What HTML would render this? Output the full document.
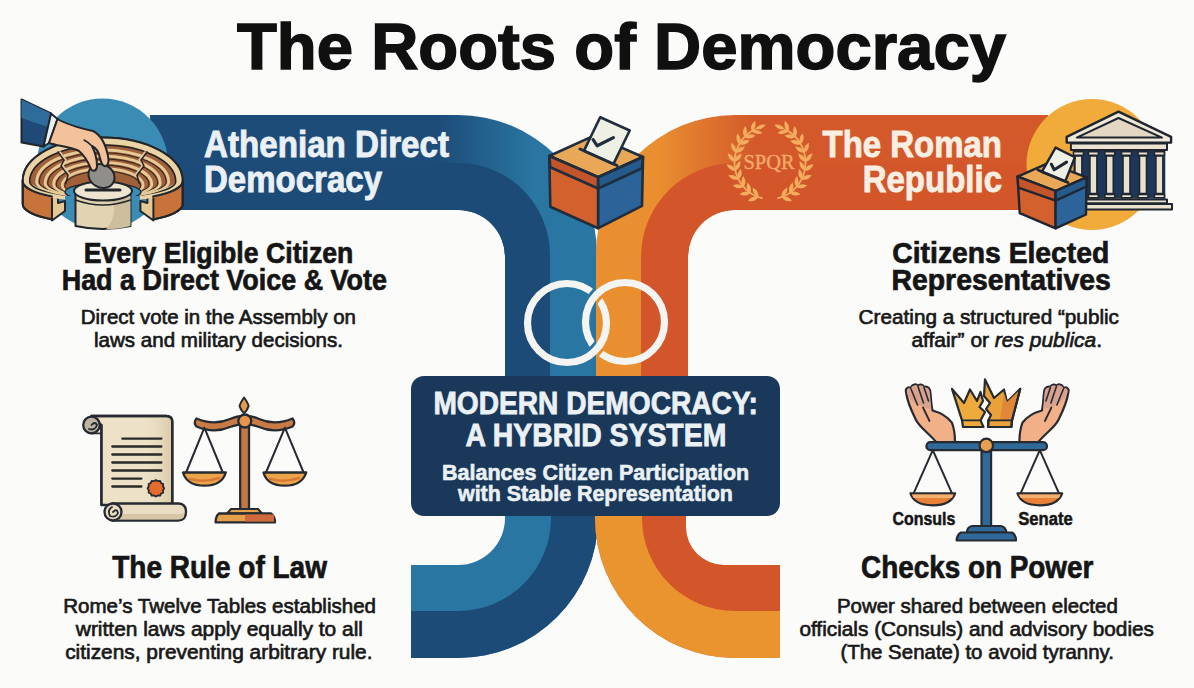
<!DOCTYPE html>
<html><head><meta charset="utf-8">
<style>
html,body{margin:0;padding:0;background:#fbfbfa;}
body{width:1194px;height:688px;overflow:hidden;position:relative;font-family:"Liberation Sans",sans-serif;}
svg{position:absolute;left:0;top:0;}
</style></head><body>
<svg width="1194" height="688" viewBox="0 0 1194 688">

<defs>
<linearGradient id="gBlueOut" gradientUnits="userSpaceOnUse" x1="438" y1="0" x2="535" y2="0">
<stop offset="0" stop-color="#1d4c79"/><stop offset="1" stop-color="#2a76a2"/></linearGradient>
<linearGradient id="gOrOut" gradientUnits="userSpaceOnUse" x1="755" y1="0" x2="658" y2="0">
<stop offset="0" stop-color="#d3592a"/><stop offset="1" stop-color="#e98f30"/></linearGradient>
</defs>
<rect width="1194" height="688" fill="#fbfbfa"/>
<path d="M150,115 L458,115 A139,139 0 0 1 597,254 L597,440 L505,440 L505,257 A47,47 0 0 0 458,210 L150,210 Z" fill="url(#gBlueOut)"/>
<path d="M150,163 L458,163 A92,92 0 0 1 550,255 L550,440 L505,440 L505,257 A47,47 0 0 0 458,210 L150,210 Z" fill="#1c4b78"/>
<path d="M505,440 L505,518 A47,47 0 0 1 458,565 L411,565 L411,658 L458,658 A140,140 0 0 0 598,518 L598,440 Z" fill="#2a76a2"/>
<path d="M551,440 L551,518 A93,93 0 0 1 458,611 L411,611 L411,658 L458,658 A140,140 0 0 0 598,518 L598,440 Z" fill="#1c4b78"/>
<path d="M1048,115 L735,115 A139,139 0 0 0 596,254 L596,440 L688,440 L688,257 A47,47 0 0 1 735,210 L1048,210 Z" fill="url(#gOrOut)"/>
<path d="M1048,163 L735,163 A94,94 0 0 0 641,257 L641,440 L688,440 L688,257 A47,47 0 0 1 735,210 L1048,210 Z" fill="#d2562a"/>
<path d="M686,440 L686,527 A38,38 0 0 0 724,565 L780,565 L780,658 L735,658 A140,140 0 0 1 595,518 L595,440 Z" fill="#d2562a"/>
<path d="M642,440 L642,518 A93,93 0 0 0 735,611 L780,611 L780,658 L735,658 A140,140 0 0 1 595,518 L595,440 Z" fill="#ea9430"/>


<mask id="mL" maskUnits="userSpaceOnUse" x="0" y="0" width="1194" height="688">
<rect width="1194" height="688" fill="#fff"/>
<g clip-path="url(#cTop)"><circle cx="625" cy="322" r="39.5" fill="none" stroke="#000" stroke-width="13"/></g>
</mask>
<mask id="mR" maskUnits="userSpaceOnUse" x="0" y="0" width="1194" height="688">
<rect width="1194" height="688" fill="#fff"/>
<g clip-path="url(#cBot)"><circle cx="567" cy="323" r="39.5" fill="none" stroke="#000" stroke-width="13"/></g>
</mask>
<clipPath id="cTop"><rect x="575" y="278" width="40" height="36"/></clipPath>
<clipPath id="cBot"><rect x="575" y="332" width="40" height="36"/></clipPath>
<circle cx="567" cy="323" r="39.5" fill="none" stroke="#f4f4f2" stroke-width="7.2" mask="url(#mL)"/>
<circle cx="625" cy="322" r="39.5" fill="none" stroke="#f4f4f2" stroke-width="7.2" mask="url(#mR)"/>

<rect x="411" y="376" width="369" height="140" rx="13" fill="#19385a"/>
<g id="athens" stroke="#22262b" stroke-width="2" stroke-linejoin="round" stroke-linecap="round">
<circle cx="102.5" cy="164" r="65.5" fill="#3a8cb4" stroke="none"/>
<!-- walls -->
<clipPath id="wallClip"><path d="M0,90 H210 V240 H153 V170 H52 V240 H0 Z"/></clipPath>
<clipPath id="topClip"><path d="M0,90 H210 V240 H140 V196 H65 V240 H0 Z"/></clipPath>
<g clip-path="url(#wallClip)">
<path d="M22.7,181 A80,20 0 0 0 182.7,181 L182.7,204 A80,20 0 0 1 22.7,204 Z" fill="#c8733a"/>
</g>
<path d="M52,196.5 L58,195 L58,203 L65,201 L65,211 L52,220.5 Z" fill="#e6c896"/>
<path d="M153.4,196.5 L147.4,195 L147.4,203 L140.4,201 L140.4,211 L153.4,220.5 Z" fill="#e6c896"/>
<g clip-path="url(#topClip)">
<path d="M22.7,181.0 A80.0,43.5 0 0 1 182.7,181.0 A80.0,20.0 0 0 1 22.7,181.0 Z" fill="#a0603a"/>
<path d="M26.2,181.0 A76.5,40.0 0 0 1 179.2,181.0 A76.5,18.0 0 0 1 26.2,181.0 Z" fill="none" stroke="#ead3a5" stroke-width="6"/>
<path d="M29.7,181.5 A73.0,36.5 0 0 1 175.7,181.5 A73.0,16.0 0 0 1 29.7,181.5 Z" fill="none" stroke="#22262b" stroke-width="1.6"/>
<path d="M36.7,182.0 A66.0,32.0 0 0 1 168.7,182.0 A66.0,15.0 0 0 1 36.7,182.0 Z" fill="none" stroke="#e6cb98" stroke-width="2.8"/>
<path d="M39.3,182.3 A63.4,29.6 0 0 1 166.1,182.3 A63.4,13.8 0 0 1 39.3,182.3 Z" fill="none" stroke="#3b2a20" stroke-width="1.1"/>
<path d="M45.2,183.2 A57.5,27.0 0 0 1 160.2,183.2 A57.5,13.8 0 0 1 45.2,183.2 Z" fill="none" stroke="#e6cb98" stroke-width="2.8"/>
<path d="M47.8,183.5 A54.9,24.6 0 0 1 157.6,183.5 A54.9,12.6 0 0 1 47.8,183.5 Z" fill="none" stroke="#3b2a20" stroke-width="1.1"/>
<path d="M53.7,184.4 A49.0,22.0 0 0 1 151.7,184.4 A49.0,12.6 0 0 1 53.7,184.4 Z" fill="none" stroke="#e6cb98" stroke-width="2.8"/>
<path d="M56.3,184.7 A46.4,19.6 0 0 1 149.1,184.7 A46.4,11.4 0 0 1 56.3,184.7 Z" fill="none" stroke="#3b2a20" stroke-width="1.1"/>
<path d="M62.2,185.6 A40.5,17.0 0 0 1 143.2,185.6 A40.5,11.4 0 0 1 62.2,185.6 Z" fill="none" stroke="#e6cb98" stroke-width="2.8"/>
<path d="M64.8,185.9 A37.9,14.6 0 0 1 140.6,185.9 A37.9,10.2 0 0 1 64.8,185.9 Z" fill="none" stroke="#3b2a20" stroke-width="1.1"/>
<ellipse cx="103" cy="192" rx="38" ry="9" fill="#3a8cb4" stroke="#22262b" stroke-width="1.5"/>
<path d="M58,152 L64,160 L61,166 L68,175 L66,183" fill="none" stroke="#2a2420" stroke-width="1.6"/>
<path d="M60,152 L66,160 L63,166 L70,175" fill="none" stroke="#d9c7a6" stroke-width="1.6"/>
<path d="M147,152 L141,160 L144,166 L137,175 L139,183" fill="none" stroke="#2a2420" stroke-width="1.6"/>
<path d="M145,152 L139,160 L142,166 L135,175" fill="none" stroke="#d9c7a6" stroke-width="1.6"/>
</g>
<path d="M22.7,181 A80,43.5 0 0 1 182.7,181 A80,20 0 0 1 153,196.5 M52,196.5 A80,20 0 0 1 22.7,181" fill="none"/>
<path d="M22.7,181 L22.7,204 A80,20 0 0 0 52,219.5 M182.7,181 L182.7,204 A80,20 0 0 1 153.4,219.5" fill="none"/>
<!-- pedestal -->
<path d="M75.5,193 L75.5,226 Q102.7,232 130.5,226 L130.5,193 Z" fill="#e2d4b3"/>
<path d="M112,200 L130.5,196 L130.5,226 Q120,229 106,229.5 Q118,215 112,200 Z" fill="#cdbf9e" stroke="none"/>
<path d="M75.5,200 Q102.7,210 130.5,200" fill="none" stroke-width="1.6"/>
<ellipse cx="103" cy="191" rx="29" ry="9.5" fill="#eee5d0"/>
<path d="M86,190 L120,190" stroke-width="3"/>
<!-- stone -->
<ellipse cx="101.5" cy="176" rx="13.5" ry="11.5" transform="rotate(30 101.5 176)" fill="#8f8e88"/>
<!-- sleeve -->
<path d="M21.5,99.5 L51,113.5 L43.5,146.5 L21.5,142.5 Z" fill="#1f4a78"/>
<path d="M21.5,99.5 L51,113.5 L48,127 L21.5,118 Z" fill="#2e6c9c" stroke="none"/>
<path d="M51,113.5 L57.5,119 L49,143 L43.5,146.5 Z" fill="#e9eef0"/>
<!-- hand -->
<path d="M57.5,119 C64,123 80,128 93,131 C101,135 106,146 108,156 C109,161 108,165 106,166 C103,167 101,163 100,158 C99,152 96,148 92,146 C95,152 97,160 97,166 C97,171 93,172 91,169 C88,162 84,155 79,151 C71,147 58,146 49,143 Z" fill="#f3c29a"/>
<path d="M84,140 C88,142 91,145 92,146" fill="none" stroke-width="1.5"/>
</g>

<g id="ballotc" stroke="#1f2d3c" stroke-width="2.6" stroke-linejoin="round" stroke-linecap="round">
<path d="M549.3,156 L594.1,135.6 L643,157 L598.2,177.3 Z" fill="#e8a857"/>
<path d="M600.2,117.3 L629.7,130.5 L613.4,164.1 L583.9,150.9 Z" fill="#eef0e6"/>
<path d="M593.1,139.7 L597.2,145.8 L613.4,137.6" fill="none" stroke-width="3.2"/>
<path d="M580,149 L617,165.5" fill="none" stroke-width="3"/>
<path d="M549.3,156 L598.2,177.3 L598.2,228.2 L550.3,206.8 Z" fill="#d3612d"/>
<path d="M549.3,156 L598.2,177.3 L598.2,188.5 L550.3,167.2 Z" fill="#c4552a"/>
<path d="M598.2,177.3 L643,157 L642,205.8 L598.2,228.2 Z" fill="#2c6499"/>
<path d="M598.2,177.3 L643,157 L642,168.2 L598.2,188.5 Z" fill="#255a8c"/>
</g>
<g id="roman" stroke="#1f2631" stroke-width="2.4" stroke-linejoin="round" stroke-linecap="round">
<circle cx="1092" cy="164.5" r="65.5" fill="#f0ab3b" stroke="none"/>
<!-- temple -->
<rect x="1073.4" y="150.1" width="91.9" height="48.5" fill="#1e3658" stroke="none"/>
<path d="M1118.5,111.7 L1171.1,136.8 L1171.1,142.6 L1066.7,142.6 L1066.7,136.8 Z" fill="#efe8d6"/>
<path d="M1118.5,118 L1162,137.6 L1076.7,137.6 Z" fill="#e4d8c2" stroke-width="2"/>
<rect x="1070.9" y="143.5" width="96.1" height="6.6" fill="#ebe3cf" stroke-width="2"/>
<g fill="#e9e1cc" stroke-width="1.6">
<rect x="1073.5" y="151.8" width="10" height="3.4"/><rect x="1074.9" y="156" width="7" height="37.6"/><rect x="1073.5" y="194.4" width="10" height="3.4"/>
<rect x="1088.4" y="151.8" width="10" height="3.4"/><rect x="1089.9" y="156" width="7" height="37.6"/><rect x="1088.4" y="194.4" width="10" height="3.4"/>
<rect x="1104.8" y="151.8" width="10" height="3.4"/><rect x="1106.3" y="156" width="7" height="37.6"/><rect x="1104.8" y="194.4" width="10" height="3.4"/>
<rect x="1121.5" y="151.8" width="10" height="3.4"/><rect x="1123" y="156" width="7" height="37.6"/><rect x="1121.5" y="194.4" width="10" height="3.4"/>
<rect x="1138" y="151.8" width="10" height="3.4"/><rect x="1139.5" y="156" width="7" height="37.6"/><rect x="1138" y="194.4" width="10" height="3.4"/>
<rect x="1154.4" y="151.8" width="10" height="3.4"/><rect x="1155.9" y="156" width="7" height="37.6"/><rect x="1154.4" y="194.4" width="10" height="3.4"/>
</g>
<rect x="1082" y="199.4" width="85" height="3.8" fill="#ebe3cf" stroke-width="2"/>
<rect x="1080" y="204" width="92" height="5.5" fill="#ebe3cf" stroke-width="2"/>
<!-- ballot box -->
<path d="M1017.6,176.6 L1048.7,162.8 L1086.6,177.3 L1055.6,191 Z" fill="#e8a857"/>
<path d="M1055.6,147.6 L1074.9,157.3 L1065.2,181.4 L1041.8,171.8 Z" fill="#eef0e6"/>
<path d="M1051.4,164.2 L1054.2,169.7 L1066.6,162.1" fill="none" stroke-width="3"/>
<path d="M1038,170 L1068,182.5" fill="none" stroke-width="2.8"/>
<path d="M1017.6,176.6 L1055.6,191 L1055.6,228.3 L1019.7,213.2 Z" fill="#d3612d"/>
<path d="M1017.6,176.6 L1055.6,191 L1055.6,200.7 L1018.3,187.6 Z" fill="#c4552a"/>
<path d="M1055.6,191 L1086.6,177.3 L1086,214.5 L1055.6,228.3 Z" fill="#2c6499"/>
<path d="M1055.6,191 L1086.6,177.3 L1086.4,186.5 L1055.6,200.7 Z" fill="#255a8c"/>
</g>
<g id="wreath" fill="#f4ad5f">
<path d="M762.6,198.3 L760.5,197.7 L758.3,197.0 L756.2,196.2 L754.2,195.3 L752.2,194.2 L750.4,193.0 L748.5,191.6 L746.8,190.2 L745.2,188.6 L743.6,187.0 L742.2,185.2 L740.8,183.4 L739.6,181.4 L738.5,179.4 L737.6,177.4 L736.7,175.2 L736.0,173.1 L735.4,170.8 L735.0,168.6 L734.7,166.3 L734.5,164.0 L734.5,161.7 L734.6,159.4 L734.9,157.2 L735.3,154.9 L735.8,152.7 L736.5,150.5 L737.3,148.3 L738.2,146.2 L739.3,144.2 L740.4,142.3 L741.7,140.4 L743.1,138.6 L744.6,136.9 L746.2,135.3 L747.9,133.8 L749.7,132.5 L751.6,131.2 L753.6,130.1 L755.6,129.1" fill="none" stroke="#f4ad5f" stroke-width="1.8"/>
<path d="M0,0 Q5.0,-4.0 11.0,0 Q5.0,4.0 0,0 Z" transform="translate(758.3 197.0) rotate(159.2)"/>
<path d="M0,0 Q5.0,-4.0 11.0,0 Q5.0,4.0 0,0 Z" transform="translate(758.3 197.0) rotate(239.2)"/>
<path d="M0,0 Q5.0,-4.0 11.0,0 Q5.0,4.0 0,0 Z" transform="translate(750.4 193.0) rotate(173.6)"/>
<path d="M0,0 Q5.0,-4.0 11.0,0 Q5.0,4.0 0,0 Z" transform="translate(750.4 193.0) rotate(253.6)"/>
<path d="M0,0 Q5.0,-4.0 11.0,0 Q5.0,4.0 0,0 Z" transform="translate(743.6 187.0) rotate(188.0)"/>
<path d="M0,0 Q5.0,-4.0 11.0,0 Q5.0,4.0 0,0 Z" transform="translate(743.6 187.0) rotate(268.0)"/>
<path d="M0,0 Q5.0,-4.0 11.0,0 Q5.0,4.0 0,0 Z" transform="translate(738.5 179.4) rotate(202.4)"/>
<path d="M0,0 Q5.0,-4.0 11.0,0 Q5.0,4.0 0,0 Z" transform="translate(738.5 179.4) rotate(282.4)"/>
<path d="M0,0 Q5.0,-4.0 11.0,0 Q5.0,4.0 0,0 Z" transform="translate(735.4 170.8) rotate(216.8)"/>
<path d="M0,0 Q5.0,-4.0 11.0,0 Q5.0,4.0 0,0 Z" transform="translate(735.4 170.8) rotate(296.8)"/>
<path d="M0,0 Q5.0,-4.0 11.0,0 Q5.0,4.0 0,0 Z" transform="translate(734.5 161.7) rotate(231.2)"/>
<path d="M0,0 Q5.0,-4.0 11.0,0 Q5.0,4.0 0,0 Z" transform="translate(734.5 161.7) rotate(311.2)"/>
<path d="M0,0 Q5.0,-4.0 11.0,0 Q5.0,4.0 0,0 Z" transform="translate(735.8 152.7) rotate(245.6)"/>
<path d="M0,0 Q5.0,-4.0 11.0,0 Q5.0,4.0 0,0 Z" transform="translate(735.8 152.7) rotate(325.6)"/>
<path d="M0,0 Q5.0,-4.0 11.0,0 Q5.0,4.0 0,0 Z" transform="translate(739.3 144.2) rotate(260.0)"/>
<path d="M0,0 Q5.0,-4.0 11.0,0 Q5.0,4.0 0,0 Z" transform="translate(739.3 144.2) rotate(340.0)"/>
<path d="M0,0 Q5.0,-4.0 11.0,0 Q5.0,4.0 0,0 Z" transform="translate(744.6 136.9) rotate(274.4)"/>
<path d="M0,0 Q5.0,-4.0 11.0,0 Q5.0,4.0 0,0 Z" transform="translate(744.6 136.9) rotate(354.4)"/>
<path d="M0,0 Q5.0,-4.0 11.0,0 Q5.0,4.0 0,0 Z" transform="translate(751.6 131.2) rotate(288.8)"/>
<path d="M0,0 Q5.0,-4.0 11.0,0 Q5.0,4.0 0,0 Z" transform="translate(751.6 131.2) rotate(368.8)"/>
<path d="M0,0 Q5.0,-3.8 11.0,0 Q5.0,3.8 0,0 Z" transform="translate(755.6 129.1) rotate(336.0)"/>
<path d="M777.4,198.3 L779.5,197.7 L781.7,197.0 L783.8,196.2 L785.8,195.3 L787.8,194.2 L789.6,193.0 L791.5,191.6 L793.2,190.2 L794.8,188.6 L796.4,187.0 L797.8,185.2 L799.2,183.4 L800.4,181.4 L801.5,179.4 L802.4,177.4 L803.3,175.2 L804.0,173.1 L804.6,170.8 L805.0,168.6 L805.3,166.3 L805.5,164.0 L805.5,161.7 L805.4,159.4 L805.1,157.2 L804.7,154.9 L804.2,152.7 L803.5,150.5 L802.7,148.3 L801.8,146.2 L800.7,144.2 L799.6,142.3 L798.3,140.4 L796.9,138.6 L795.4,136.9 L793.8,135.3 L792.1,133.8 L790.3,132.5 L788.4,131.2 L786.4,130.1 L784.4,129.1" fill="none" stroke="#f4ad5f" stroke-width="1.8"/>
<path d="M0,0 Q5.0,-4.0 11.0,0 Q5.0,4.0 0,0 Z" transform="translate(781.7 197.0) rotate(-59.2)"/>
<path d="M0,0 Q5.0,-4.0 11.0,0 Q5.0,4.0 0,0 Z" transform="translate(781.7 197.0) rotate(20.8)"/>
<path d="M0,0 Q5.0,-4.0 11.0,0 Q5.0,4.0 0,0 Z" transform="translate(789.6 193.0) rotate(-73.6)"/>
<path d="M0,0 Q5.0,-4.0 11.0,0 Q5.0,4.0 0,0 Z" transform="translate(789.6 193.0) rotate(6.4)"/>
<path d="M0,0 Q5.0,-4.0 11.0,0 Q5.0,4.0 0,0 Z" transform="translate(796.4 187.0) rotate(-88.0)"/>
<path d="M0,0 Q5.0,-4.0 11.0,0 Q5.0,4.0 0,0 Z" transform="translate(796.4 187.0) rotate(-8.0)"/>
<path d="M0,0 Q5.0,-4.0 11.0,0 Q5.0,4.0 0,0 Z" transform="translate(801.5 179.4) rotate(-102.4)"/>
<path d="M0,0 Q5.0,-4.0 11.0,0 Q5.0,4.0 0,0 Z" transform="translate(801.5 179.4) rotate(-22.4)"/>
<path d="M0,0 Q5.0,-4.0 11.0,0 Q5.0,4.0 0,0 Z" transform="translate(804.6 170.8) rotate(-116.8)"/>
<path d="M0,0 Q5.0,-4.0 11.0,0 Q5.0,4.0 0,0 Z" transform="translate(804.6 170.8) rotate(-36.8)"/>
<path d="M0,0 Q5.0,-4.0 11.0,0 Q5.0,4.0 0,0 Z" transform="translate(805.5 161.7) rotate(-131.2)"/>
<path d="M0,0 Q5.0,-4.0 11.0,0 Q5.0,4.0 0,0 Z" transform="translate(805.5 161.7) rotate(-51.2)"/>
<path d="M0,0 Q5.0,-4.0 11.0,0 Q5.0,4.0 0,0 Z" transform="translate(804.2 152.7) rotate(-145.6)"/>
<path d="M0,0 Q5.0,-4.0 11.0,0 Q5.0,4.0 0,0 Z" transform="translate(804.2 152.7) rotate(-65.6)"/>
<path d="M0,0 Q5.0,-4.0 11.0,0 Q5.0,4.0 0,0 Z" transform="translate(800.7 144.2) rotate(-160.0)"/>
<path d="M0,0 Q5.0,-4.0 11.0,0 Q5.0,4.0 0,0 Z" transform="translate(800.7 144.2) rotate(-80.0)"/>
<path d="M0,0 Q5.0,-4.0 11.0,0 Q5.0,4.0 0,0 Z" transform="translate(795.4 136.9) rotate(-174.4)"/>
<path d="M0,0 Q5.0,-4.0 11.0,0 Q5.0,4.0 0,0 Z" transform="translate(795.4 136.9) rotate(-94.4)"/>
<path d="M0,0 Q5.0,-4.0 11.0,0 Q5.0,4.0 0,0 Z" transform="translate(788.4 131.2) rotate(-188.8)"/>
<path d="M0,0 Q5.0,-4.0 11.0,0 Q5.0,4.0 0,0 Z" transform="translate(788.4 131.2) rotate(-108.8)"/>
<path d="M0,0 Q5.0,-3.8 11.0,0 Q5.0,3.8 0,0 Z" transform="translate(784.4 129.1) rotate(-156.0)"/>
<text x="743.5" y="169.3" font-family="Liberation Serif" font-size="21" textLength="51" lengthAdjust="spacingAndGlyphs" fill="#f5aa6c" stroke="#f5aa6c" stroke-width="0.35">SPQR</text>
</g><g id="law" stroke="#262a31" stroke-width="2.3" stroke-linejoin="round" stroke-linecap="round">
<!-- scroll sheet -->
<path d="M91.4,416 L166,416 Q172.3,416 172.3,422 L172.3,505 L101.4,505 L101.4,425 Z" fill="#ede2c8"/>
<linearGradient id="gScroll" gradientUnits="userSpaceOnUse" x1="140" y1="0" x2="172" y2="0"><stop offset="0" stop-color="#ede2c8" stop-opacity="0"/><stop offset="1" stop-color="#d9c9a8"/></linearGradient>
<path d="M140,418 L171,418 L171,504 L140,504 Z" fill="url(#gScroll)" stroke="none"/>
<path d="M91.4,416 L166,416 Q172.3,416 172.3,422 L172.3,505" fill="none"/>
<path d="M101.4,425 L101.4,505" fill="none"/>
<circle cx="91.5" cy="425" r="8.3" fill="#bdb4a3"/>
<path d="M91.5,425 Q95,421 97,425 Q95,431 89,429" fill="none" stroke-width="1.8"/>
<path d="M91.5,433.3 L101.4,433.3" fill="none" stroke-width="1.8"/>
<!-- lines -->
<g stroke="#2a2a2a" stroke-width="2.3">
<path d="M122.3,438.6 H161.4"/><path d="M112.3,446.5 H161.4"/><path d="M112.3,454.5 H161.4"/><path d="M112.3,462.5 H161.4"/><path d="M112.3,470.5 H161.4"/><path d="M112.3,478.6 H141.4"/><path d="M112.3,486.5 H141.4"/>
</g>
<!-- seal -->
<path d="M155.9,480 l2,1.2 2.3,-0.2 0.9,2.1 2.1,0.9 -0.2,2.3 1.2,2 -1.2,2 0.2,2.3 -2.1,0.9 -0.9,2.1 -2.3,-0.2 -2,1.2 -2,-1.2 -2.3,0.2 -0.9,-2.1 -2.1,-0.9 0.2,-2.3 -1.2,-2 1.2,-2 -0.2,-2.3 2.1,-0.9 0.9,-2.1 2.3,0.2 Z" fill="#e56c2e" stroke-width="1.8"/>
<!-- bottom roll -->
<path d="M112,503.5 L178,503.5 Q186,503.5 186,512 Q186,520.5 178,520.5 L112,520.5 Z" fill="#e9dcc0"/>
<path d="M115,514 L180,514 Q184,514 184,512 L184,517 Q182,519.5 178,519.5 L115,519.5 Z" fill="#d8c7a5" stroke="none"/>
<circle cx="113" cy="512" r="8.5" fill="#e9dcc0"/>
<path d="M113,512 Q117,508 118,513 Q116,518 110,516 Q107,510 112,507" fill="none" stroke-width="1.8"/>
<!-- scales -->
<path d="M244.1,397.5 Q248,403 248.6,406 Q247,411 244.1,413 Q241.2,411 239.6,406 Q240.2,403 244.1,397.5 Z" fill="#e49a4f" stroke-width="2"/>
<rect x="240.2" y="424" width="8.8" height="86" fill="#c47844"/>
<path d="M196.5,418.5 Q214,426 230,419 Q240,415 244.8,416 Q250,415 259,419 Q275,426 292.5,418.5 Q296,423 292.5,426.5 Q275,434 259,427 Q250,423.5 244.8,424.5 Q240,423.5 230,427 Q214,434 196.5,426.5 Q193,423 196.5,418.5 Z" fill="#c97b45"/>
<circle cx="244.8" cy="421" r="6.5" fill="#e8964e"/>
<g fill="none" stroke-width="2"><path d="M186.1,472.5 L204.4,427.7 L222.8,472.5"/><path d="M266,472.5 L284.9,427.7 L303.6,472.5"/></g>
<path d="M183,472.5 L225.8,472.5 Q222,485.7 204.4,485.7 Q187,485.7 183,472.5 Z" fill="#eba449"/>
<path d="M263.5,472.5 L306.2,472.5 Q302,485.7 284.9,485.7 Q267,485.7 263.5,472.5 Z" fill="#eba449"/>
<path d="M190,479 Q204,483 219,478" fill="none" stroke="#d87a35" stroke-width="2.5"/>
<path d="M270,479 Q284,483 299,478" fill="none" stroke="#d87a35" stroke-width="2.5"/>
<path d="M231,509 L258,509 L262,513.5 L227,513.5 Z" fill="#e6a44e" stroke-width="2"/>
<path d="M219,513.5 L271,513.5 Q275,516 275,522.4 L215.6,522.4 Q215.6,516 219,513.5 Z" fill="#e6a04c"/>
<path d="M245,514.5 L274,514.5 Q274,517 274,521.4 L245,521.4 Z" fill="#d06a3a" stroke="none"/>
</g>
<g id="checks" stroke="#262a31" stroke-width="2.2" stroke-linejoin="round" stroke-linecap="round">
<!-- hands -->
<g id="lhand">
<path d="M936,442 C930,434 920,428 916,420 C911,410 907,400 906,392 C905,388 909,386 911,389 C911,385 916,383 918,386 C919,384 923,384 924,387 C926,386 929,387 930,390 C931,396 931,404 932.5,410.5 C938,412 947,416 951.9,422.7 C954,428 955,436 955,442 Z" fill="#f2b088"/>
<path d="M907,393 C906,389 909,387 911,389 C911,386 916,384 918,386.5 C919,385 923,385 924,387.5 C926,387 929,388 929.5,391 C930.5,397 930.5,404 931.5,409.5 L923,407 C916,404 910,401 907,393 Z" fill="#d9a28e" stroke="none"/>
<path d="M911,389 L917.5,405 M918,386.5 L923.5,403 M924,387.5 L928.5,401" fill="none" stroke-width="1.6"/>
<path d="M923,407.5 L929.5,421" fill="none" stroke-width="1.8"/>
</g>
<use href="#lhand" transform="translate(1974.4 0) scale(-1 1)"/>
<!-- crown -->
<path d="M952,388.9 L964,403 L970,389.5 L977,401 L980.5,392 L983,401 L979.5,407 L985,412 L980.5,420.4 L983.5,427 L963,427 L962,420.4 Z" fill="#eeaa3c"/>
<path d="M985,379.4 L994,398 L1004,389.5 L1007,402 L1020.2,388.9 L1012,420.4 L1011.4,427 L988,427 L988.5,420 L991,415 L986,409 L990,403 L984,396 Z" fill="#e9a23a"/>
<path d="M1004,393 L1007,402 L1018.5,391 L1011,420 L1000,420 Z" fill="#e0873a" stroke="none"/>
<path d="M1020.2,388.9 L1012,420.4 L1011.4,427 L988,427 L988.5,420" fill="none"/>
<path d="M963,420.4 L980.5,420.4 M988.5,420.4 L1012,420.4" fill="none" stroke-width="1.8"/>
<!-- scale -->
<rect x="981.5" y="450" width="9.6" height="78" fill="#2e6999"/>
<rect x="926.4" y="442.2" width="120.6" height="8" rx="4" fill="#2e6999"/>
<circle cx="986.3" cy="445.4" r="6.7" fill="#e8a050"/>
<g fill="none" stroke-width="2"><path d="M913.6,493.3 L932.8,450.2 L952,493.3"/><path d="M1020.6,493.3 L1039.8,450.2 L1059,493.3"/></g>
<path d="M910.4,493.3 L955.1,493.3 Q951,505.3 932.8,505.3 Q914,505.3 910.4,493.3 Z" fill="#e88038"/>
<path d="M1017.5,493.3 L1062.2,493.3 Q1058,505.3 1039.8,505.3 Q1021,505.3 1017.5,493.3 Z" fill="#e88038"/>
<path d="M912,494.5 L953.5,494.5 L952,498 L913.5,498 Z" fill="#f3b070" stroke="none"/>
<path d="M1019,494.5 L1060.5,494.5 L1059,498 L1020.5,498 Z" fill="#f3b070" stroke="none"/>
<path d="M972,526 L1001,526 Q1006,527 1006.3,532.5 L967,532.5 Q967,527 972,526 Z" fill="#2e6999"/>
<path d="M961,532.5 L1012,532.5 Q1016,535 1016,540.5 L956.7,540.5 Q956.7,535 961,532.5 Z" fill="#2e6999"/>
</g>

<g font-family="Liberation Sans" font-weight="bold">
<text x="237" y="69" font-size="64" textLength="769" lengthAdjust="spacingAndGlyphs" fill="#101010" stroke="#101010" stroke-width="1.5">The Roots of Democracy</text>
<g fill="#eaf0f3" font-size="36" stroke="#eaf0f3" stroke-width="0.9">
<text x="204" y="157" textLength="245" lengthAdjust="spacingAndGlyphs">Athenian Direct</text>
<text x="204" y="192" textLength="178" lengthAdjust="spacingAndGlyphs">Democracy</text>
</g>
<g fill="#f8eee2" font-size="36" stroke="#f8eee2" stroke-width="0.9">
<text x="822.5" y="156.7" textLength="179.5" lengthAdjust="spacingAndGlyphs">The Roman</text>
<text x="862.7" y="192" textLength="139.3" lengthAdjust="spacingAndGlyphs">Republic</text>
</g>
<g fill="#151515" font-size="30" stroke="#151515" stroke-width="0.7">
<text x="83.7" y="262.8" textLength="269.7" lengthAdjust="spacingAndGlyphs">Every Eligible Citizen</text>
<text x="61.7" y="289.5" textLength="325.3" lengthAdjust="spacingAndGlyphs">Had a Direct Voice &amp; Vote</text>
<text x="892.3" y="262.8" textLength="217" lengthAdjust="spacingAndGlyphs">Citizens Elected</text>
<text x="891.5" y="289.5" textLength="219.3" lengthAdjust="spacingAndGlyphs">Representatives</text>
</g>
<g fill="#151515" font-size="31" stroke="#151515" stroke-width="0.7">
<text x="112.2" y="577.5" textLength="214.8" lengthAdjust="spacingAndGlyphs">The Rule of Law</text>
<text x="861" y="577.5" textLength="232.4" lengthAdjust="spacingAndGlyphs">Checks on Power</text>
</g>
<g fill="#eaf0f3" font-size="31" stroke="#eaf0f3" stroke-width="0.8">
<text x="433.4" y="414.4" textLength="324.6" lengthAdjust="spacingAndGlyphs">MODERN DEMOCRACY:</text>
<text x="465.5" y="446" textLength="260.8" lengthAdjust="spacingAndGlyphs">A HYBRID SYSTEM</text>
</g>
<g fill="#eaf0f3" font-size="22" stroke="#eaf0f3" stroke-width="0.6">
<text x="442" y="479.5" textLength="307.2" lengthAdjust="spacingAndGlyphs">Balances Citizen Participation</text>
<text x="458" y="501" textLength="274.9" lengthAdjust="spacingAndGlyphs">with Stable Representation</text>
</g>
<g fill="#151515" font-size="18" stroke="#151515" stroke-width="0.5">
<text x="892.4" y="525.4" textLength="62.9" lengthAdjust="spacingAndGlyphs">Consuls</text>
<text x="1018.3" y="525.4" textLength="54.4" lengthAdjust="spacingAndGlyphs">Senate</text>
</g>
</g>
<g font-family="Liberation Sans" fill="#181818" font-size="20" stroke="#181818" stroke-width="0.65">
<text x="80.8" y="323.8" textLength="275.2" lengthAdjust="spacingAndGlyphs">Direct vote in the Assembly on</text>
<text x="94" y="347" textLength="249" lengthAdjust="spacingAndGlyphs">laws and military decisions.</text>
<text x="858.6" y="323.8" textLength="260.4" lengthAdjust="spacingAndGlyphs">Creating a structured “public</text>
<text x="911.4" y="346.7" textLength="190.6" lengthAdjust="spacingAndGlyphs">affair” or <tspan font-style="italic">res publica</tspan>.</text>
<text x="63.2" y="613.3" textLength="312.8" lengthAdjust="spacingAndGlyphs">Rome’s Twelve Tables established</text>
<text x="75.8" y="636.2" textLength="287.2" lengthAdjust="spacingAndGlyphs">written laws apply equally to all</text>
<text x="65.2" y="658.7" textLength="307.3" lengthAdjust="spacingAndGlyphs">citizens, preventing arbitrary rule.</text>
<text x="836.9" y="612.7" textLength="280.9" lengthAdjust="spacingAndGlyphs">Power shared between elected</text>
<text x="799.4" y="636.2" textLength="354.6" lengthAdjust="spacingAndGlyphs">officials (Consuls) and advisory bodies</text>
<text x="840.4" y="658.7" textLength="273.6" lengthAdjust="spacingAndGlyphs">(The Senate) to avoid tyranny.</text>
</g>

</svg>
</body></html>
